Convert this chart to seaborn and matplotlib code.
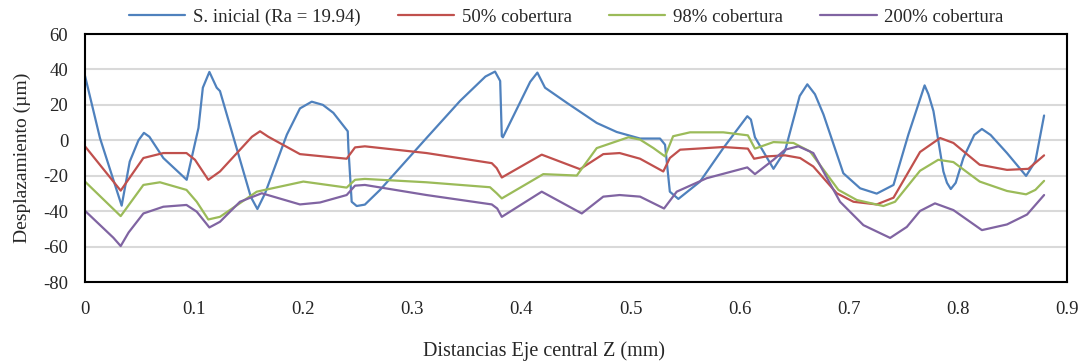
import pandas as pd
import seaborn as sns
import matplotlib.pyplot as plt

# valores (x en mm, y en µm)
x_inicial = [0.0, 0.0137, 0.0336, 0.041, 0.049, 0.054, 0.059, 0.0718, 0.0932, 0.104,
             0.108, 0.114, 0.1207, 0.1237, 0.152, 0.158, 0.165, 0.185, 0.197, 0.2078,
             0.218, 0.2276, 0.2408, 0.2414, 0.2444, 0.249, 0.2565, 0.2704, 0.313, 0.3437,
             0.367, 0.3758, 0.3805, 0.382, 0.383, 0.408, 0.4146, 0.4216, 0.4415, 0.469,
             0.4873, 0.5087, 0.527, 0.5316, 0.536, 0.5438, 0.5637, 0.585, 0.607, 0.6103,
             0.614, 0.631, 0.6416, 0.655, 0.662, 0.669, 0.6768, 0.695, 0.7104, 0.7256,
             0.741, 0.7546, 0.7695, 0.773, 0.7776, 0.7867, 0.790, 0.7935, 0.798, 0.805,
             0.815, 0.822, 0.830, 0.845, 0.8625, 0.871, 0.879]
y_inicial = [36.4, 1.3, -36.9, -12.0, 0.0, 4.2, 2.0, -10.0, -22.3, 7.0,
             29.7, 38.6, 29.7, 27.8, -32.0, -38.8, -30.0, 3.2, 18.0, 21.8,
             20.0, 15.5, 5.1, -4.4, -34.7, -37.1, -36.3, -28.0, 1.3, 22.2,
             36.0, 38.8, 33.5, 2.3, 1.7, 33.0, 38.2, 29.7, 21.2, 9.8,
             4.7, 1.0, 1.0, -2.5, -29.0, -33.1, -23.3, -4.4, 13.6, 11.7,
             1.7, -16.1, -5.9, 25.0, 31.6, 26.0, 14.6, -18.6, -27.1, -30.1,
             -25.2, 3.2, 31.0, 26.0, 16.5, -17.6, -24.0, -27.5, -24.0, -10.0,
             3.0, 6.4, 3.0, -7.2, -20.1, -11.9, 14.0]

x_50 = [0.0, 0.0327, 0.0535, 0.0718, 0.093, 0.1008, 0.113, 0.1237, 0.153, 0.1604,
        0.168, 0.197, 0.2398, 0.2475, 0.2565, 0.313, 0.3728, 0.3773, 0.382, 0.4186,
        0.4537, 0.475, 0.490, 0.5087, 0.530, 0.536, 0.5454, 0.585, 0.6075, 0.6132,
        0.6245, 0.6416, 0.6554, 0.6675, 0.689, 0.7043, 0.7256, 0.741, 0.7653, 0.7837,
        0.7959, 0.820, 0.845, 0.8646, 0.879]
y_50 = [-3.4, -28.4, -10.0, -7.2, -7.2, -11.0, -22.3, -17.6, 2.0, 5.1,
        2.0, -7.8, -10.4, -4.0, -3.4, -7.2, -12.9, -15.7, -21.0, -8.1,
        -16.3, -7.8, -7.2, -10.4, -17.6, -10.0, -5.3, -3.8, -4.7, -10.4,
        -9.1, -8.5, -10.0, -14.8, -29.9, -34.7, -36.2, -32.4, -6.6, 1.3,
        -1.5, -13.8, -16.7, -16.1, -8.5]

x_98 = [0.0, 0.0327, 0.0535, 0.0687, 0.093, 0.1024, 0.113, 0.1237, 0.1574, 0.2001,
        0.2398, 0.2475, 0.2565, 0.313, 0.3712, 0.3773, 0.382, 0.420, 0.4507, 0.469,
        0.498, 0.5087, 0.521, 0.5316, 0.539, 0.5545, 0.585, 0.6075, 0.614, 0.631,
        0.6493, 0.6645, 0.6905, 0.7073, 0.7317, 0.7424, 0.7653, 0.782, 0.7959, 0.820,
        0.845, 0.8625, 0.871, 0.879]
y_98 = [-23.3, -42.8, -25.2, -23.7, -28.0, -34.7, -44.7, -43.2, -29.0, -23.3,
        -26.7, -22.3, -21.8, -23.7, -26.5, -29.9, -32.8, -19.1, -19.9, -4.4,
        1.7, 0.4, -4.4, -9.1, 2.3, 4.5, 4.5, 2.8, -4.7, -1.0,
        -1.5, -6.3, -28.0, -33.7, -37.1, -34.7, -17.2, -11.0, -12.3, -23.3,
        -28.6, -30.5, -28.0, -22.9]

x_200 = [0.0, 0.026, 0.0327, 0.040, 0.0535, 0.0718, 0.093, 0.1024, 0.114, 0.1237,
         0.142, 0.162, 0.197, 0.2154, 0.2398, 0.2475, 0.2565, 0.313, 0.3728, 0.3778,
         0.382, 0.4186, 0.4553, 0.475, 0.490, 0.5087, 0.5307, 0.5423, 0.5698, 0.607,
         0.614, 0.631, 0.6416, 0.6538, 0.6675, 0.692, 0.7134, 0.7379, 0.7532, 0.7653,
         0.779, 0.7959, 0.822, 0.845, 0.8634, 0.879]
y_200 = [-39.8, -55.0, -59.7, -52.0, -41.3, -37.5, -36.5, -40.3, -49.2, -46.0,
         -34.7, -29.9, -36.2, -35.1, -30.9, -25.6, -25.2, -30.9, -36.2, -38.5,
         -43.2, -29.0, -41.3, -31.8, -30.9, -31.8, -38.5, -29.0, -21.4, -15.3,
         -19.1, -11.0, -5.3, -3.4, -7.2, -34.7, -47.9, -55.1, -48.9, -39.9,
         -35.6, -39.4, -50.7, -47.5, -41.9, -30.9]

series = ['S. inicial (Ra = 19.94)', '50% cobertura', '98% cobertura', '200% cobertura']
colores = ['#4F81BD', '#C0504D', '#9BBB59', '#8064A2']

df = pd.concat([
    pd.DataFrame({'x': x_inicial, 'y': y_inicial, 'serie': series[0]}),
    pd.DataFrame({'x': x_50, 'y': y_50, 'serie': series[1]}),
    pd.DataFrame({'x': x_98, 'y': y_98, 'serie': series[2]}),
    pd.DataFrame({'x': x_200, 'y': y_200, 'serie': series[3]}),
])

sns.set_theme(style='white')
plt.rcParams['font.family'] = ['Liberation Serif', 'DejaVu Serif']
plt.rcParams['axes.unicode_minus'] = False

fig = plt.figure(figsize=(10.87, 3.63), dpi=100)
ax = fig.add_axes([0.0782, 0.2231, 0.9034, 0.6832])
sns.lineplot(data=df, x='x', y='y', hue='serie', palette=colores, sort=False,
             estimator=None, linewidth=1.6, ax=ax)

ax.set_xlim(0, 0.9)
ax.set_ylim(-80, 60)
ax.set_xticks([0, 0.1, 0.2, 0.3, 0.4, 0.5, 0.6, 0.7, 0.8, 0.9])
ax.set_xticklabels(['0', '0.1', '0.2', '0.3', '0.4', '0.5', '0.6', '0.7', '0.8', '0.9'])
ax.set_yticks(range(-80, 61, 20))
ax.yaxis.grid(True, color='#d9d9d9', linewidth=1.5)
ax.set_axisbelow(True)
for s in ax.spines.values():
    s.set_color('black')
    s.set_linewidth(1.5)
ax.tick_params(axis='x', length=0, pad=14, labelsize=13.5)
ax.tick_params(axis='y', length=0, pad=12, labelsize=13.5)
ax.set_xlabel('Distancias Eje central Z (mm)', fontsize=14.5)
ax.xaxis.set_label_coords(0.467, -0.24)
ax.set_ylabel('Desplazamiento (µm)', fontsize=14)
ax.yaxis.set_label_coords(-0.055, 0.5)

ax.legend(loc='lower center', bbox_to_anchor=(0.49, 1.0), ncol=4, frameon=False,
          fontsize=13.5, handlelength=3.0, handletextpad=0.4, columnspacing=2.0,
          borderaxespad=0.05)

fig.savefig('out.png', dpi=100)
